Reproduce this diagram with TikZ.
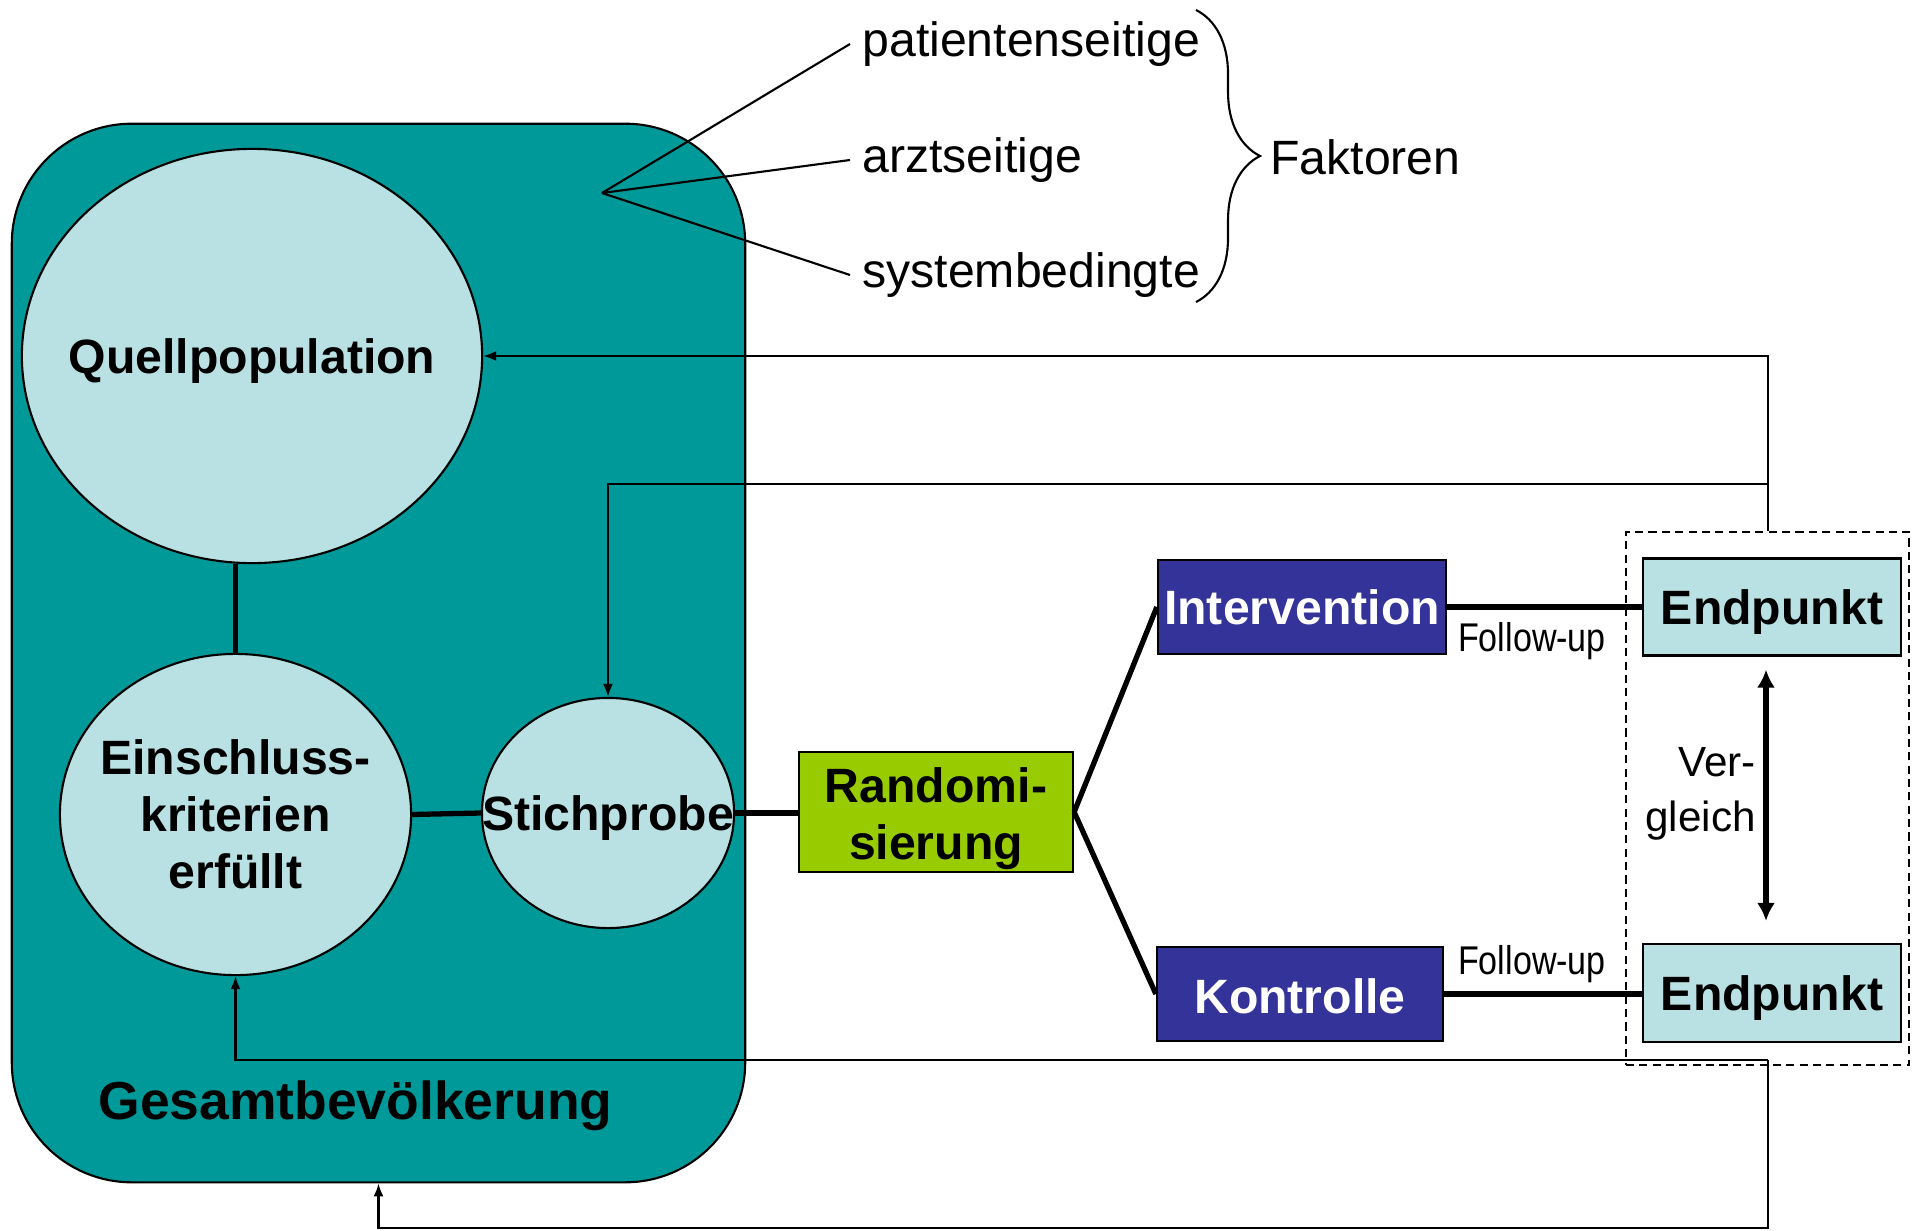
\documentclass[tikz,border=0pt]{standalone}
\usepackage{fontspec}
\setmainfont{Liberation Sans}
\newfontfamily\schmal[FakeStretch=0.85]{Liberation Sans}
\usepackage{tikz}
\usetikzlibrary{shapes.geometric,arrows.meta,decorations.pathreplacing}
\definecolor{petrol}{RGB}{0,153,153}
\definecolor{hellblau}{RGB}{185,224,227}
\definecolor{dunkelblau}{RGB}{51,51,153}
\definecolor{gruen}{RGB}{153,204,0}

\begin{document}
\begin{tikzpicture}[x=0.01cm, y=-0.01cm,
    gross/.style={font=\fontsize{13.7}{16.2}\selectfont},
    fett/.style={font=\fontsize{13.7}{16.2}\selectfont\bfseries, align=center},
    kreis/.style={ellipse, draw, fill=hellblau, inner sep=0pt, line width=0.6pt},
    kasten/.style={rectangle, draw, inner sep=0pt, line width=0.6pt, fett},
    dick/.style={line width=1.5pt},
    duenn/.style={line width=0.6pt},
    rueck/.style={line width=0.6pt, -{Latex[length=0.13cm, width=0.1cm]}}]
  \useasboundingbox (0,0) rectangle (1918,1230);
  \node[draw, fill=petrol, rounded corners=1.2cm, minimum width=7.33cm,
    minimum height=10.58cm, line width=0.6pt] (Gesamt) at (378.5,653) {};
  \node[font=\fontsize{15.2}{18}\selectfont\bfseries, anchor=west] (GesamtText) at (86,1106) {Gesamtbevölkerung};

  \node[kreis, minimum width=4.6cm, minimum height=4.14cm] (Quell) at (252,356) {};
  \node[fett] (QuellText) at ([yshift=-0.05cm]Quell) {Quellpopulation};
  \node[kreis, minimum width=3.51cm, minimum height=3.21cm] (Einschluss) at (235.5,814.5) {};
  \node[fett] (EinschlussText) at (Einschluss) {Einschluss-\\kriterien\\erfüllt};
  \node[kreis, minimum width=2.52cm, minimum height=2.3cm] (Stich) at (608,813) {};
  \node[fett] (StichText) at ([yshift=-0.05cm]Stich) {Stichprobe};

  \node[kasten, fill=gruen, minimum width=2.74cm, minimum height=1.2cm] (Random) at (936,812) {};
  \node[fett] (RandomText) at ([yshift=-0.07cm]Random) {Randomi-\\sierung};
  \node[kasten, fill=dunkelblau, text=white, minimum width=2.88cm, minimum height=0.94cm] (Interv) at (1302,607) {Intervention};
  \node[kasten, fill=dunkelblau, text=white, minimum width=2.86cm, minimum height=0.94cm] (Kontr) at (1300,994) {};
  \node[fett, text=white] (KontrText) at ([yshift=-0.02cm]Kontr) {Kontrolle};
  \node[kasten, fill=hellblau, minimum width=2.58cm, minimum height=0.97cm] (EndOben) at (1772,607) {};
  \node[fett] (EndObenText) at ([yshift=-0.05cm]EndOben) {Endpunkt};
  \node[kasten, fill=hellblau, minimum width=2.58cm, minimum height=0.98cm] (EndUnten) at (1772,993) {};
  \node[fett] (EndUntenText) at ([yshift=-0.05cm]EndUnten) {Endpunkt};
  \node[draw, line width=0.6pt, dash pattern=on 2.3pt off 1.5pt, minimum width=2.83cm,
    minimum height=5.33cm] (Vgl) at (1767.5,798.5) {};

  \draw[dick] (Einschluss.north) -- (Einschluss.north |- Quell.south);
  \draw[dick] (Einschluss.east) -- (Stich.west);
  \draw[dick] (Stich.east) -- (Stich.east -| Random.west);
  \draw[dick] (Random.east) -- (Interv.west);
  \draw[dick] (Random.east) -- (Kontr.west);
  \draw[dick] (Interv.east) -- (EndOben.west);
  \draw[dick] (Kontr.east) -- (Kontr.east -| EndUnten.west);
  \draw[line width=1.6pt, {Latex[length=0.18cm, width=0.18cm]}-{Latex[length=0.18cm, width=0.18cm]}]
    ([xshift=-0.06cm, yshift=-0.13cm]EndOben.south) -- ([xshift=-0.06cm, yshift=0.22cm]EndUnten.north);
  \node[font=\fontsize{12}{15.5}\selectfont, anchor=east, align=right] (VglText) at (1768,794) {Ver-\\gleich};
  \node[font=\schmal\fontsize{11.4}{13}\selectfont] (FollowOben) at (1532,641) {Follow-up};
  \node[font=\schmal\fontsize{11.4}{13}\selectfont] (FollowUnten) at (1532,964) {Follow-up};

  \coordinate (Knick) at (1768,484);
  \coordinate (Unten) at (1768,1060);
  \coordinate (Boden) at (1768,1228);
  \draw[rueck] (Vgl.north -| Knick) |- (Quell.east);
  \draw[rueck] (Knick) -| (Stich.north);
  \draw[rueck] (Unten) -| (Einschluss.south);
  \draw[rueck] (Unten) -- (Boden) -| (Gesamt.south);

  \coordinate (Fak) at (602,193);
  \node[gross, anchor=west] (Pat) at (850,44) {patientenseitige};
  \node[gross, anchor=west] (Arzt) at (850,160) {arztseitige};
  \node[gross, anchor=west] (Sys) at (850,275) {systembedingte};
  \draw[duenn] (Fak) -- (Pat.west);
  \draw[duenn] (Fak) -- (Arzt.west);
  \draw[duenn] (Fak) -- (Sys.west);
  \draw[duenn, decorate, decoration={brace, amplitude=0.64cm}] (1196,10) -- (1196,302);
  \node[gross, anchor=west] (Faktoren) at (1258,157) {Faktoren};
\end{tikzpicture}
\end{document}
